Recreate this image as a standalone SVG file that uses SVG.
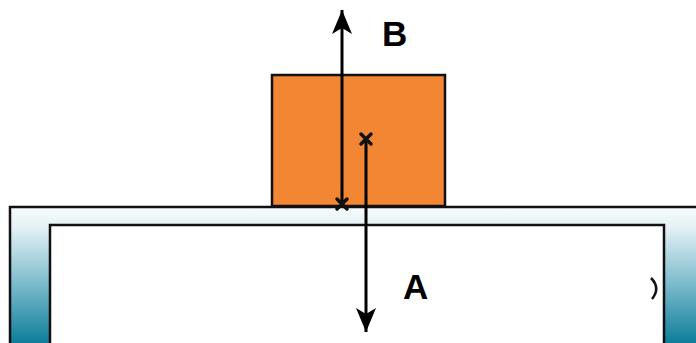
<svg xmlns="http://www.w3.org/2000/svg" width="696" height="343" viewBox="0 0 696 343">
<defs>
<linearGradient id="leg" x1="0" y1="207" x2="0" y2="343" gradientUnits="userSpaceOnUse">
<stop offset="0" stop-color="#f7fbfd"/>
<stop offset="0.15" stop-color="#e4f1f5"/>
<stop offset="0.5" stop-color="#8cc4d3"/>
<stop offset="1" stop-color="#0e7d99"/>
</linearGradient>
<marker id="arrow" viewBox="0 0 24 20" refX="24" refY="10" markerWidth="24" markerHeight="20" markerUnits="userSpaceOnUse" orient="auto">
<path d="M0,0 L24,10 L0,20 L6,10 Z" fill="#000"/>
</marker>
<style>
.ln{stroke:#111;stroke-width:2.5;fill:none}
.ar{stroke:#000;stroke-width:3;fill:none}
.x{stroke:#111;stroke-width:3.5;stroke-linecap:round}
.lbl{font-family:"Liberation Sans",Arial,sans-serif;font-weight:bold;font-size:35px;fill:#000}
</style>
</defs>
<g id="table">
<path d="M10,343 L10,207 L696,207 L696,343 Z" fill="url(#leg)"/>
<rect x="50" y="225" width="614" height="120" fill="#fff"/>
<path class="ln" d="M10,343 L10,207 L696,207"/>
<path class="ln" d="M50,343 L50,225 L664,225 L664,343"/>
<path d="M651,278 Q661,288 652,299" stroke="#111" stroke-width="2.5" fill="none"/>
</g>
<g id="block">
<rect x="272" y="75" width="173" height="131" fill="#f28633" stroke="#111" stroke-width="2.5"/>
</g>
<g id="connectors">
<line class="ar" x1="342" y1="204" x2="342" y2="10" marker-end="url(#arrow)"/>
<line class="ar" x1="366" y1="139" x2="366" y2="332" marker-end="url(#arrow)"/>
<path class="x" d="M337,199 L347,209 M347,199 L337,209"/>
<path class="x" d="M361,134 L371,144 M371,134 L361,144"/>
</g>
<g id="labels">
<text class="lbl" x="382" y="46">B</text>
<text class="lbl" x="403" y="299">A</text>
</g>
</svg>
